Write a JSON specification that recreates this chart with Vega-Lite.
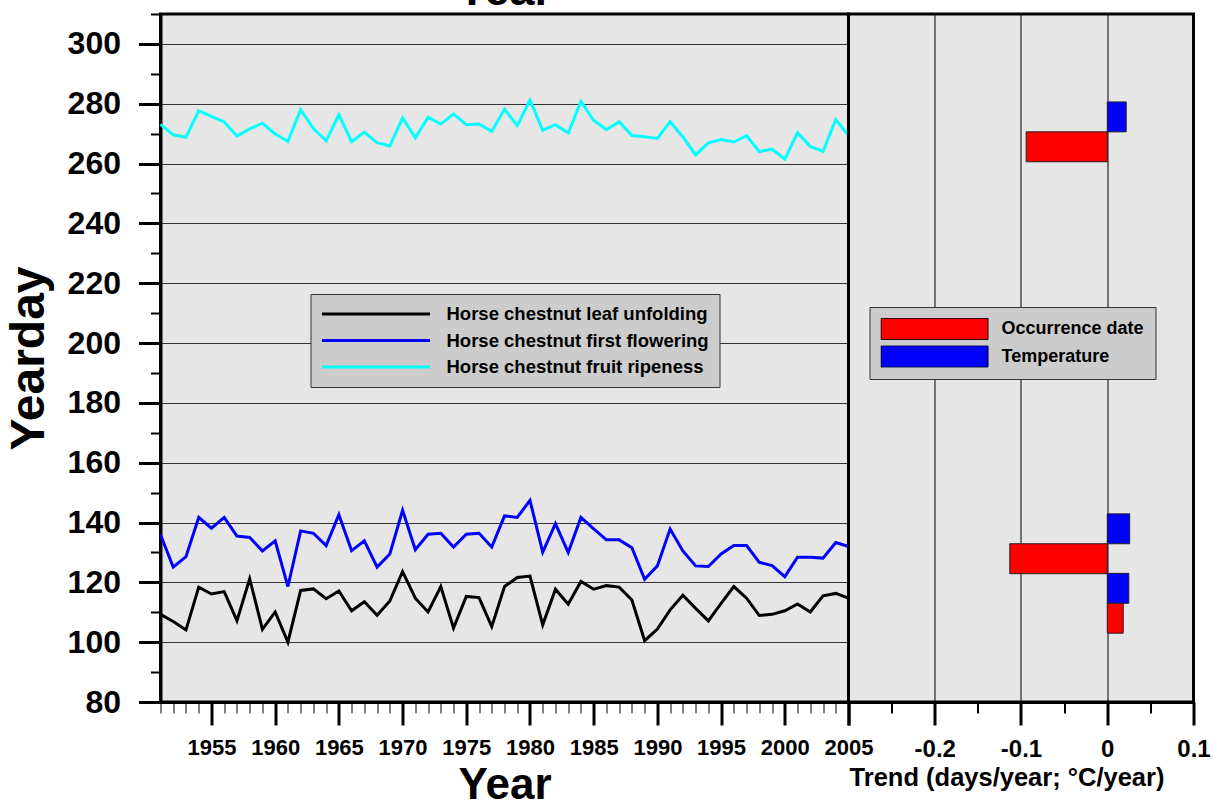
{
  "$schema": "https://vega.github.io/schema/vega-lite/v6.json",
  "padding": {"left": 3.5, "top": -33, "right": 0, "bottom": 0},
  "background": "white",
  "spacing": 0,
  "bounds": "flush",
  "config": {
    "view": {"stroke": "black", "strokeWidth": 3, "fill": "#e6e6e6"},
    "font": "Liberation Sans",
    "axis": {"labelFont": "Liberation Sans", "labelFontWeight": "bold", "labelColor": "black", "titleFont": "Liberation Sans", "titleFontWeight": "bold", "titleColor": "black", "domainColor": "black", "domainWidth": 3, "tickColor": "black", "labelOverlap": false, "labelFlush": false, "labelBound": false},
    "legend": {"labelFont": "Liberation Sans", "labelFontWeight": "bold", "labelColor": "black", "fillColor": "#cccccc", "strokeColor": "#333333"}
  },
  "datasets": {
    "phen": [
      {"year":1951,"leaf":109.3,"flower":135.9,"fruit":273.1},
      {"year":1952,"leaf":106.9,"flower":125.1,"fruit":269.6},
      {"year":1953,"leaf":104.1,"flower":128.6,"fruit":268.8},
      {"year":1954,"leaf":118.4,"flower":141.7,"fruit":277.7},
      {"year":1955,"leaf":116.1,"flower":138.1,"fruit":275.8},
      {"year":1956,"leaf":116.9,"flower":141.7,"fruit":273.9},
      {"year":1957,"leaf":107.2,"flower":135.5,"fruit":269.2},
      {"year":1958,"leaf":121.2,"flower":135.0,"fruit":271.6},
      {"year":1959,"leaf":104.3,"flower":130.5,"fruit":273.5},
      {"year":1960,"leaf":110.1,"flower":133.9,"fruit":269.9},
      {"year":1961,"leaf":100.0,"flower":118.6,"fruit":267.4},
      {"year":1962,"leaf":117.3,"flower":137.2,"fruit":278.0},
      {"year":1963,"leaf":117.8,"flower":136.4,"fruit":271.7},
      {"year":1964,"leaf":114.5,"flower":132.3,"fruit":267.6},
      {"year":1965,"leaf":117.1,"flower":142.6,"fruit":276.3},
      {"year":1966,"leaf":110.5,"flower":130.6,"fruit":267.3},
      {"year":1967,"leaf":113.5,"flower":133.9,"fruit":270.5},
      {"year":1968,"leaf":109.0,"flower":125.1,"fruit":267.0},
      {"year":1969,"leaf":113.8,"flower":129.5,"fruit":265.9},
      {"year":1970,"leaf":123.6,"flower":144.1,"fruit":275.3},
      {"year":1971,"leaf":114.7,"flower":130.9,"fruit":268.6},
      {"year":1972,"leaf":110.1,"flower":136.1,"fruit":275.5},
      {"year":1973,"leaf":118.6,"flower":136.4,"fruit":273.2},
      {"year":1974,"leaf":104.7,"flower":131.8,"fruit":276.6},
      {"year":1975,"leaf":115.3,"flower":136.1,"fruit":273.0},
      {"year":1976,"leaf":114.9,"flower":136.4,"fruit":273.2},
      {"year":1977,"leaf":105.2,"flower":131.8,"fruit":270.7},
      {"year":1978,"leaf":118.6,"flower":142.2,"fruit":278.2},
      {"year":1979,"leaf":121.6,"flower":141.7,"fruit":272.7},
      {"year":1980,"leaf":122.1,"flower":147.4,"fruit":281.2},
      {"year":1981,"leaf":105.8,"flower":130.1,"fruit":271.1},
      {"year":1982,"leaf":117.7,"flower":139.6,"fruit":273.0},
      {"year":1983,"leaf":112.7,"flower":130.0,"fruit":270.2},
      {"year":1984,"leaf":120.3,"flower":141.7,"fruit":280.8},
      {"year":1985,"leaf":117.7,"flower":137.9,"fruit":274.4},
      {"year":1986,"leaf":118.9,"flower":134.2,"fruit":271.3},
      {"year":1987,"leaf":118.4,"flower":134.2,"fruit":274.0},
      {"year":1988,"leaf":114.1,"flower":131.6,"fruit":269.4},
      {"year":1989,"leaf":100.5,"flower":121.0,"fruit":269.0},
      {"year":1990,"leaf":104.4,"flower":125.5,"fruit":268.4},
      {"year":1991,"leaf":110.8,"flower":137.8,"fruit":274.0},
      {"year":1992,"leaf":115.7,"flower":130.5,"fruit":268.9},
      {"year":1993,"leaf":111.3,"flower":125.5,"fruit":262.9},
      {"year":1994,"leaf":107.1,"flower":125.3,"fruit":266.9},
      {"year":1995,"leaf":113.0,"flower":129.5,"fruit":268.0},
      {"year":1996,"leaf":118.6,"flower":132.3,"fruit":267.2},
      {"year":1997,"leaf":114.7,"flower":132.3,"fruit":269.3},
      {"year":1998,"leaf":108.9,"flower":126.7,"fruit":264.0},
      {"year":1999,"leaf":109.3,"flower":125.6,"fruit":264.8},
      {"year":2000,"leaf":110.5,"flower":121.9,"fruit":261.5},
      {"year":2001,"leaf":112.8,"flower":128.4,"fruit":270.3},
      {"year":2002,"leaf":110.1,"flower":128.4,"fruit":265.7},
      {"year":2003,"leaf":115.5,"flower":128.1,"fruit":264.1},
      {"year":2004,"leaf":116.3,"flower":133.3,"fruit":274.7},
      {"year":2005,"leaf":114.7,"flower":132.0,"fruit":269.4}
    ],
    "trend": [
      {"phase":"fruit","kind":"Temperature","trend":0.022,"lo":270.6,"hi":280.6},
      {"phase":"fruit","kind":"Occurrence date","trend":-0.094,"lo":260.6,"hi":270.6},
      {"phase":"flowering","kind":"Temperature","trend":0.026,"lo":132.9,"hi":142.9},
      {"phase":"flowering","kind":"Occurrence date","trend":-0.113,"lo":122.9,"hi":132.9},
      {"phase":"leaf","kind":"Temperature","trend":0.025,"lo":113.0,"hi":123.0},
      {"phase":"leaf","kind":"Occurrence date","trend":0.0185,"lo":103.0,"hi":113.0}
    ]
  },
  "hconcat": [
    {
      "width": 688,
      "height": 688,
      "title": {"text": "Year", "fontSize": 45, "fontWeight": "bold", "font": "Liberation Sans", "color": "black", "baseline": "alphabetic", "offset": -52, "anchor": "middle", "frame": "group"},
      "data": {"name": "phen"},
      "transform": [{"fold": ["leaf", "flower", "fruit"], "as": ["series", "day"]}],
      "mark": {"type": "line", "strokeWidth": 3},
      "encoding": {
        "x": {
          "field": "year", "type": "quantitative",
          "scale": {"domain": [1951, 2005], "nice": false, "zero": false},
          "axis": {
            "values": [1951,1952,1953,1954,1955,1956,1957,1958,1959,1960,1961,1962,1963,1964,1965,1966,1967,1968,1969,1970,1971,1972,1973,1974,1975,1976,1977,1978,1979,1980,1981,1982,1983,1984,1985,1986,1987,1988,1989,1990,1991,1992,1993,1994,1995,1996,1997,1998,1999,2000,2001,2002,2003,2004,2005],
            "format": "d",
            "labelExpr": "datum.value % 5 === 0 ? datum.label : ''",
            "tickSize": {"condition": {"test": "datum.value % 5 === 0", "value": 23}, "value": 11},
            "tickWidth": {"condition": {"test": "datum.value % 5 === 0", "value": 3}, "value": 1},
            "grid": false,
            "labelFontSize": 22,
            "labelPadding": 12.5,
            "title": "Year",
            "titleFontSize": 44,
            "titleY": 61,
            "titleBaseline": "top"
          }
        },
        "y": {
          "field": "day", "type": "quantitative",
          "scale": {"domain": [80, 310], "nice": false, "zero": false},
          "axis": {
            "values": [80,90,100,110,120,130,140,150,160,170,180,190,200,210,220,230,240,250,260,270,280,290,300,310],
            "labelExpr": "datum.value % 20 === 0 ? datum.label : ''",
            "tickSize": {"condition": {"test": "datum.value % 20 === 0", "value": 22}, "value": 10},
            "tickWidth": {"condition": {"test": "datum.value % 20 === 0", "value": 3}, "value": 2},
            "grid": true,
            "gridColor": "#333333",
            "gridWidth": 1,
            "gridOpacity": {"condition": {"test": "datum.value % 20 === 0", "value": 1}, "value": 0},
            "labelFontSize": 32,
            "labelPadding": 18,
            "title": "Yearday",
            "titleFontSize": 48,
            "titleX": -117,
            "titleY": 344,
            "titleAngle": 270,
            "titleBaseline": "alphabetic"
          }
        },
        "color": {
          "field": "series", "type": "nominal",
          "scale": {"domain": ["leaf", "flower", "fruit"], "range": ["#000000", "#0000ff", "#00ffff"]},
          "legend": {
            "title": null, "orient": "none", "legendX": 150, "legendY": 280,
            "labelExpr": "datum.label === 'leaf' ? 'Horse chestnut leaf unfolding' : datum.label === 'flower' ? 'Horse chestnut first flowering' : 'Horse chestnut fruit ripeness'",
            "symbolType": "stroke", "symbolSize": 11664, "symbolStrokeWidth": 3,
            "clipHeight": 20, "rowPadding": 6.5, "padding": 10, "labelOffset": 15,
            "labelFontSize": 18.5, "labelLimit": 400, "symbolOffset": 0
          }
        }
      }
    },
    {
      "width": 345,
      "height": 688,
      "data": {"name": "trend"},
      "mark": {"type": "rect", "stroke": "#222222", "strokeWidth": 1},
      "encoding": {
        "x": {
          "field": "trend", "type": "quantitative",
          "scale": {"domain": [-0.3, 0.1], "nice": false, "zero": false},
          "axis": {
            "values": [-0.3, -0.25, -0.2, -0.15, -0.1, -0.05, 0, 0.05, 0.1],
            "labelExpr": "abs(datum.value + 0.2) < 0.001 ? '-0.2' : abs(datum.value + 0.1) < 0.001 ? '-0.1' : abs(datum.value) < 0.001 ? '0' : abs(datum.value - 0.1) < 0.001 ? '0.1' : ''",
            "tickSize": {"condition": {"test": "abs(datum.value * 10 - round(datum.value * 10)) < 0.001", "value": 23}, "value": 11},
            "tickWidth": {"condition": {"test": "abs(datum.value * 10 - round(datum.value * 10)) < 0.001", "value": 3}, "value": 2},
            "grid": true,
            "gridColor": "#000000",
            "gridWidth": 1,
            "gridOpacity": {"condition": {"test": "abs(datum.value * 10 - round(datum.value * 10)) < 0.001", "value": 1}, "value": 0},
            "labelFontSize": 24,
            "labelPadding": 12.5,
            "title": "Trend (days/year; °C/year)",
            "titleFontSize": 25.5,
            "titleX": 158,
            "titleY": 63,
            "titleBaseline": "top"
          }
        },
        "x2": {"datum": 0},
        "y": {"field": "lo", "type": "quantitative", "scale": {"domain": [80, 310], "nice": false, "zero": false}, "axis": null},
        "y2": {"field": "hi"},
        "color": {
          "field": "kind", "type": "nominal",
          "scale": {"domain": ["Occurrence date", "Temperature"], "range": ["#ff0000", "#0000ff"]},
          "legend": {
            "title": null, "orient": "none", "legendX": 21, "legendY": 293,
            "symbolType": "M-1,-0.2H1V0.2H-1Z", "symbolSize": 11449,
            "symbolStrokeColor": "#000000", "symbolStrokeWidth": 1,
            "clipHeight": 22, "rowPadding": 5.5, "padding": 11, "labelOffset": 13,
            "labelFontSize": 18, "labelLimit": 400, "symbolOffset": 0
          }
        }
      }
    }
  ],
  "resolve": {"scale": {"color": "independent"}, "legend": {"color": "independent"}}
}
